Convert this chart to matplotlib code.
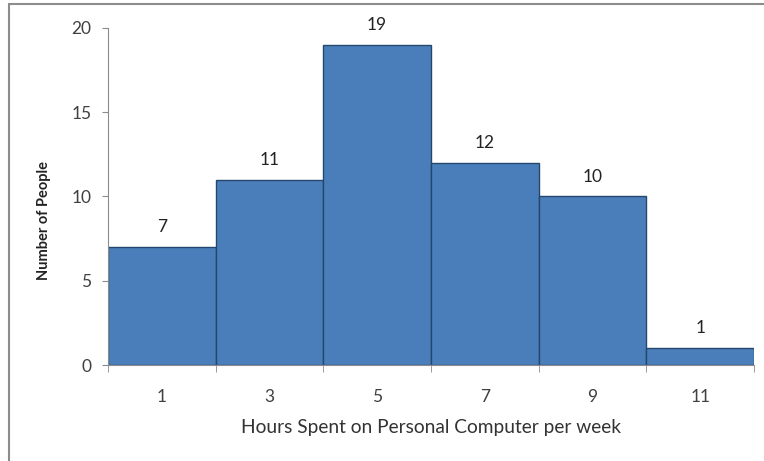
import matplotlib.pyplot as plt
from matplotlib.patches import Rectangle
import numpy as np

# Histogram data
hours = [1, 3, 5, 7, 9, 11]
people = [7, 11, 19, 12, 10, 1]
y_ticks = [0, 5, 10, 15, 20]

plt.rcParams['font.family'] = ['Lato', 'DejaVu Sans']

fig = plt.figure(figsize=(7.64, 4.61), dpi=100)
ax = fig.add_axes([108 / 764, 96 / 461, 646 / 764, 337 / 461])

# outer frame (only top and left show in the picture)
fig.patches.append(Rectangle((8.5 / 764, -0.1), 1.2, (461 - 4.5) / 461 + 0.1,
                             transform=fig.transFigure, fill=False,
                             edgecolor='#8c8c8c', linewidth=1.5))

x = np.arange(len(hours))
bars = ax.bar(x, people, width=1.0, color='#4a7ebb', edgecolor='#24476e',
              linewidth=1.0)

for xi, v in zip(x, people):
    ax.text(xi, v + 0.7, str(v), ha='center', va='bottom', fontsize=12.5,
            color='#222222')

ax.set_xlim(-0.5, len(hours) - 0.5)
ax.set_ylim(0, 20)
ax.set_yticks(y_ticks)
ax.set_xticks(x)
ax.set_xticklabels([str(h) for h in hours])
# ticks on the bin boundaries
ax.set_xticks(np.arange(len(hours) + 1) - 0.5, minor=True)
ax.tick_params(axis='x', which='major', length=0, pad=17, labelsize=12.5)
ax.tick_params(axis='x', which='minor', length=5, color='#8c8c8c', direction='out')
ax.tick_params(axis='y', length=4, color='#8c8c8c', pad=8, labelsize=12.5)
for lbl in ax.get_xticklabels() + ax.get_yticklabels():
    lbl.set_color('#404040')

for side in ['top', 'right']:
    ax.spines[side].set_visible(False)
ax.spines['left'].set_color('#8c8c8c')
ax.spines['bottom'].set_color('#8c8c8c')

ax.set_xlabel('Hours Spent on Personal Computer per week', fontsize=13.8,
              color='#333333', labelpad=10)
ax.set_ylabel('Number of People', fontsize=10.5, fontweight='bold',
              color='#222222')
ax.yaxis.set_label_coords(-0.088, 0.43)

plt.savefig('out.png', dpi=100)
plt.close()
